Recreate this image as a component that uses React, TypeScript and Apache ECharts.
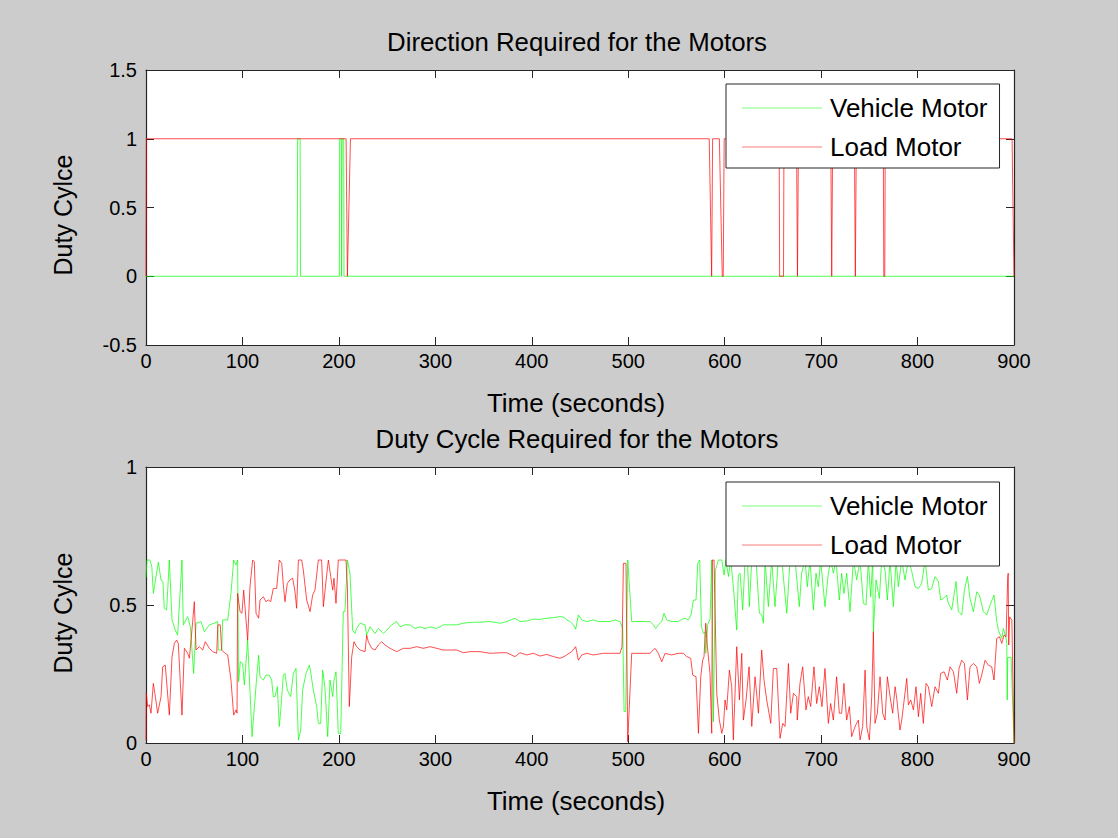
import React, { useEffect, useRef } from "react";
import * as echarts from "echarts";

// ---------- data ----------
const timeTicks = [0, 100, 200, 300, 400, 500, 600, 700, 800, 900];

const directionVehicle: [number, number][] = [
  [0, 0], [156.8, 0], [157.2, 1], [159.8, 1], [160.2, 0],
  [200.5, 0], [200.8, 1], [202.5, 1], [202.8, 0], [203.1, 0], [203.4, 1], [205, 1], [205.3, 0],
  [900, 0],
];

const directionLoad: [number, number][] = [
  [0, 0], [0.4, 1], [207.5, 1], [208.8, 0], [212, 1],
  [584, 1], [586.5, 0], [587.5, 1], [594.5, 1], [597.5, 0], [598.5, 0], [599.5, 1],
  [656.5, 1], [657, 0], [661, 0], [661.5, 1], [674.5, 1], [675.5, 0], [676.5, 1],
  [710, 1], [711, 0], [712, 1], [734.5, 1], [735.5, 0], [736.5, 1],
  [764.5, 1], [765, 0], [766, 0], [766.5, 1], [898, 1], [900, 0],
];

const dutyVehicle: [number, number][] = [
  [0, 0.6], [1, 0.663], [4, 0.663], [6, 0.64], [7.6, 0.542], [12.8, 0.655], [15.6, 0.59], [17.5, 0.585],
  [19, 0.488], [21.4, 0.482], [24.2, 0.663], [27, 0.446], [30.4, 0.409], [32.8, 0.391], [37.3, 0.663],
  [38.7, 0.428], [43.2, 0.458], [46, 0.421], [49.4, 0.252], [51.9, 0.434], [57, 0.44], [60.5, 0.403],
  [65.7, 0.428], [70.9, 0.434], [74.3, 0.44], [75, 0.337], [78.5, 0.337], [79.5, 0.446], [84.7, 0.446],
  [88.1, 0.542], [90.9, 0.663], [93.3, 0.645], [95, 0.663], [96, 0.222], [97.8, 0.294], [100.2, 0.288],
  [102, 0.21], [105.4, 0.373], [110, 0.023], [111.3, 0.083], [115.1, 0.252], [116.8, 0.318], [118.2, 0.24],
  [121.7, 0.228], [124.4, 0.246], [127.9, 0.246], [130.3, 0.228], [132, 0.168], [133.8, 0.168],
  [136.2, 0.204], [138.2, 0.06], [139.6, 0.114], [142.4, 0.246], [144.1, 0.252], [146.5, 0.192],
  [150, 0.168], [152.8, 0.252], [155.5, 0.27], [158, 0.011], [160.4, 0.047], [162.4, 0.192],
  [165.9, 0.252], [169.4, 0.282], [170.7, 0.258], [173.5, 0.192], [177, 0.132], [178.7, 0.071],
  [181.1, 0.071], [183.2, 0.264], [185.6, 0.198], [188.4, 0.023], [190.8, 0.228], [193.6, 0.168],
  [194.9, 0.228], [197, 0.258], [199.4, 0.035], [201.9, 0.035], [204.6, 0.476], [206.3, 0.476],
  [208.8, 0.663], [211.5, 0.615], [214.3, 0.409], [216.7, 0.397], [218.4, 0.415], [221.9, 0.434],
  [227.1, 0.428], [228.8, 0.391], [232.3, 0.421], [237.5, 0.397], [240.9, 0.415], [246.1, 0.397],
  [249.6, 0.409], [254.7, 0.428], [259.9, 0.44], [263.4, 0.421], [268.6, 0.428], [273.8, 0.428],
  [278.9, 0.415], [284.1, 0.421], [289.3, 0.415], [294.5, 0.421], [301.4, 0.415], [308.3, 0.428],
  [315.2, 0.428], [322.1, 0.428], [329.1, 0.434], [336, 0.437], [346.3, 0.438], [356.7, 0.44],
  [367.1, 0.434], [374, 0.44], [382.6, 0.452], [387.8, 0.44], [394.7, 0.442], [401.6, 0.449],
  [408.6, 0.448], [415.5, 0.452], [422.4, 0.454], [429.3, 0.458], [433.4, 0.456], [436.2, 0.446],
  [439.7, 0.44], [443.1, 0.428], [445.5, 0.412], [448.3, 0.464], [451.8, 0.446], [457, 0.44],
  [463.9, 0.446], [469, 0.44], [481.2, 0.44], [486.3, 0.446], [491.5, 0.44], [494.3, 0.415],
  [495.7, 0.114], [497.4, 0.114], [499.5, 0.663], [503.6, 0.44], [512.3, 0.44], [522.6, 0.44],
  [526.1, 0.428], [528.5, 0.415], [531.3, 0.428], [534.7, 0.44], [537.1, 0.47], [539.9, 0.446],
  [545.1, 0.44], [552, 0.44], [555.5, 0.448], [558.9, 0.452], [562.4, 0.446], [565.1, 0.464],
  [567.6, 0.518], [570.3, 0.518], [572.1, 0.651], [574.1, 0.663], [575.9, 0.421], [578, 0.397],
  [579.6, 0.403], [580.4, 0.325], [582.5, 0.43], [584.9, 0.45], [586.6, 0.663], [588.3, 0.077],
  [590.4, 0.627], [593.5, 0.663], [597, 0.663], [599.4, 0.609], [601.4, 0.663], [603.9, 0.603],
  [606.3, 0.663], [609, 0.566], [612.5, 0.409], [614.2, 0.609], [616, 0.615], [618.7, 0.482],
  [621.1, 0.663], [623.6, 0.663], [625.6, 0.494], [628.1, 0.663], [629.8, 0.663], [632.5, 0.663],
  [636, 0.47], [638.4, 0.464], [640.2, 0.434], [641.9, 0.663], [645.3, 0.494], [648.8, 0.663],
  [652.2, 0.494], [655.7, 0.663], [659.2, 0.663], [664.4, 0.47], [667.8, 0.663], [673, 0.663],
  [677.4, 0.494], [679.8, 0.615], [683.3, 0.663], [685.7, 0.566], [688.5, 0.663], [692, 0.482],
  [694.7, 0.615], [697.1, 0.566], [699.5, 0.663], [704, 0.494], [707.5, 0.615], [709.9, 0.663],
  [712.7, 0.615], [715.4, 0.663], [718.9, 0.518], [721.3, 0.615], [723.7, 0.542], [726.5, 0.615],
  [730, 0.476], [733.5, 0.663], [736.9, 0.591], [740.4, 0.663], [743.8, 0.506], [746.6, 0.5],
  [749, 0.663], [751.4, 0.53], [753.5, 0.663], [754.2, 0.403], [757, 0.591], [760.4, 0.524],
  [762.8, 0.663], [766.3, 0.627], [768.7, 0.518], [771.5, 0.663], [774.9, 0.494], [777.7, 0.663],
  [780.1, 0.566], [783.6, 0.663], [787, 0.591], [790.5, 0.663], [794, 0.621], [797.4, 0.566],
  [800.9, 0.56], [804.3, 0.578], [807.8, 0.663], [811.2, 0.554], [814.7, 0.56], [818.1, 0.603],
  [821.6, 0.585], [824, 0.518], [826.8, 0.524], [830.2, 0.536], [832, 0.506], [835.4, 0.482],
  [839.9, 0.585], [842.3, 0.476], [845.8, 0.464], [848.6, 0.554], [851.7, 0.603], [854.4, 0.524],
  [857.9, 0.476], [861.4, 0.548], [864.1, 0.536], [868.3, 0.476], [871.7, 0.464], [875.2, 0.5],
  [879.3, 0.536], [882.1, 0.44], [883.8, 0.409], [887.3, 0.379], [889, 0.415], [891.8, 0.379],
  [892.5, 0.36], [893, 0.156], [893.5, 0.31], [897, 0.31], [900, 0],
];

const dutyLoad: [number, number][] = [
  [0, 0.01], [0.3, 0.18], [1.7, 0.132], [3.5, 0.138], [5.2, 0.108], [7.6, 0.216], [9.7, 0.168],
  [12.1, 0.108], [15.6, 0.168], [17.3, 0.276], [20, 0.282], [22.5, 0.174], [24.2, 0.101], [27, 0.313],
  [29.4, 0.361], [31.8, 0.373], [33.5, 0.361], [37.3, 0.101], [39.8, 0.343], [43.2, 0.325], [45, 0.307],
  [48.4, 0.44], [50.1, 0.512], [51.9, 0.337], [55.3, 0.349], [58.8, 0.337], [61.5, 0.367], [65.7, 0.343],
  [69.1, 0.331], [73.3, 0.325], [74.5, 0.428], [77, 0.428], [78.5, 0.337], [80, 0.331], [84.7, 0.319],
  [88.1, 0.228], [90.9, 0.101], [93.3, 0.12], [94.4, 0.108], [95, 0.542], [97.5, 0.476], [99.5, 0.47],
  [101.3, 0.554], [103.7, 0.446], [105.4, 0.373], [107.8, 0.566], [110.6, 0.663], [112.3, 0.657],
  [114.1, 0.47], [116.8, 0.452], [118.2, 0.518], [121.7, 0.53], [124.4, 0.512], [126.8, 0.518],
  [129.3, 0.512], [132, 0.56], [135.5, 0.56], [138.2, 0.663], [140.7, 0.651], [142.4, 0.572],
  [144.1, 0.512], [146.5, 0.578], [149.3, 0.591], [152.1, 0.597], [154.5, 0.548], [156.2, 0.488],
  [158, 0.663], [161.4, 0.663], [163.1, 0.627], [166.6, 0.518], [170.1, 0.476], [172.8, 0.536],
  [175.2, 0.554], [178.7, 0.663], [182.1, 0.663], [183.9, 0.494], [186.6, 0.585], [189.1, 0.663],
  [191.5, 0.603], [193.6, 0.554], [194.9, 0.597], [197, 0.506], [199.4, 0.663], [207.4, 0.663],
  [208.8, 0.566], [210.8, 0.132], [213.3, 0.313], [215.7, 0.367], [218.4, 0.349], [221.9, 0.337],
  [227.1, 0.331], [228.8, 0.391], [230.5, 0.367], [234, 0.343], [237.5, 0.337], [240.9, 0.355],
  [244.4, 0.367], [247.8, 0.355], [253, 0.343], [256.5, 0.337], [259.9, 0.331], [266.8, 0.343],
  [273.8, 0.343], [280.7, 0.349], [287.6, 0.343], [294.5, 0.349], [301.4, 0.343], [308.3, 0.337],
  [315.2, 0.337], [322.1, 0.337], [329.1, 0.327], [336, 0.331], [346.3, 0.331], [356.7, 0.325],
  [367.1, 0.327], [374, 0.327], [382.6, 0.313], [387.8, 0.327], [394.7, 0.319], [401.6, 0.325],
  [408.6, 0.315], [415.5, 0.321], [422.4, 0.313], [429.3, 0.307], [433.4, 0.313], [436.2, 0.319],
  [441.4, 0.331], [445.5, 0.349], [448.3, 0.3], [451.8, 0.319], [457, 0.325], [463.9, 0.319],
  [474.2, 0.325], [484.6, 0.325], [491.5, 0.325], [493.6, 0.349], [495, 0.651], [497.7, 0.651],
  [499.5, 0.005], [503.6, 0.325], [522.6, 0.325], [527.8, 0.343], [531.3, 0.325], [534.7, 0.294],
  [538.2, 0.325], [545.1, 0.319], [552, 0.325], [557.2, 0.325], [560.7, 0.313], [564.8, 0.307],
  [566.9, 0.246], [570.3, 0.24], [572.8, 0.035], [575.2, 0.24], [577.2, 0.3], [578.6, 0.313],
  [580.4, 0.434], [582.1, 0.349], [584.8, 0.252], [586.6, 0.035], [587.3, 0.663], [589, 0.663],
  [591.8, 0.18], [594.5, 0.083], [597, 0.035], [598.7, 0.06], [600.4, 0.156], [602.1, 0.12],
  [604.9, 0.264], [607.3, 0.204], [609, 0.011], [612.5, 0.349], [615.3, 0.156], [617.7, 0.325],
  [619.4, 0.083], [622.2, 0.156], [625.3, 0.276], [628.1, 0.06], [631.5, 0.24], [635, 0.108],
  [638.4, 0.337], [640.8, 0.228], [643.6, 0.156], [647.8, 0.071], [650.5, 0.27], [654, 0.27],
  [657.4, 0.017], [660.2, 0.071], [662.6, 0.06], [666.1, 0.288], [668.5, 0.108], [671.3, 0.18],
  [674.7, 0.168], [675.3, 0.083], [678.1, 0.216], [680.9, 0.276], [684.3, 0.12], [686.7, 0.168],
  [689.2, 0.132], [692.6, 0.276], [695.4, 0.143], [698.1, 0.204], [700.9, 0.132], [704, 0.27],
  [707.5, 0.071], [709.9, 0.143], [712.7, 0.083], [716.1, 0.24], [718.9, 0.108], [721.3, 0.108],
  [723.7, 0.216], [726.5, 0.083], [729.3, 0.132], [731.7, 0.023], [735.2, 0.06], [738.6, 0.083],
  [740.4, 0.011], [743.1, 0.06], [745.6, 0.264], [747.3, 0.06], [750, 0.011], [752.5, 0.168],
  [754.2, 0.403], [755.9, 0.071], [758.3, 0.108], [761.1, 0.24], [763.9, 0.108], [766.3, 0.083],
  [768.7, 0.24], [771.5, 0.168], [774.2, 0.108], [776.7, 0.204], [778.4, 0.162], [781.8, 0.047],
  [783.6, 0.083], [785.3, 0.132], [788.8, 0.234], [790.5, 0.138], [792.9, 0.156], [795.7, 0.12],
  [798.4, 0.204], [800.9, 0.095], [803.3, 0.18], [806, 0.071], [808.8, 0.216], [811.2, 0.204],
  [814.7, 0.132], [818.1, 0.204], [821.6, 0.18], [824, 0.252], [827.5, 0.258], [830.9, 0.228],
  [833.7, 0.276], [837.2, 0.258], [840.6, 0.18], [843, 0.27], [845.8, 0.3], [848.6, 0.288],
  [851.7, 0.156], [854.4, 0.276], [857.9, 0.288], [861.4, 0.276], [864.1, 0.216], [866.5, 0.246],
  [870, 0.3], [873.4, 0.282], [876.9, 0.276], [879.3, 0.228], [882.1, 0.379], [884.9, 0.385],
  [887.3, 0.361], [889.7, 0.391], [891.8, 0.385], [893.5, 0.6], [894, 0.615], [894.5, 0.355],
  [895.5, 0.457], [897.8, 0.445], [900, 0],
];

const seriesNames = ["Vehicle Motor", "Load Motor"];
const titles = ["Direction Required for the Motors", "Duty Cycle Required for the Motors"];
const xLabel = "Time (seconds)";
const yLabel = "Duty Cylce";

// ---------- styling ----------
const FONT = "'Liberation Sans', Arial, Helvetica, sans-serif";
const GREEN = "#00ff00";
const RED = "#ff0000";
const AX = "#262626";
const PLOT_LEFT = 146;
const PLOT_W = 868;
const grids = [
  { top: 70, height: 275, yMin: -0.5, yMax: 1.5 },
  { top: 467, height: 276, yMin: 0, yMax: 1 },
];

export default function App() {
  const ref = useRef<HTMLDivElement>(null);

  useEffect(() => {
    document.body.style.margin = "0";
    if (!ref.current) return;
    const chart = echarts.init(ref.current, undefined, { renderer: "svg" });

    const tick = () => ({ show: true, inside: true, length: 8, lineStyle: { color: AX, width: 1 } });
    const line = () => ({ show: true, onZero: false, lineStyle: { color: AX, width: 1.2 } });
    const xAxes: any[] = [];
    const yAxes: any[] = [];
    grids.forEach((g, gi) => {
      xAxes.push({
        type: "value", gridIndex: gi, position: "bottom", min: 0, max: 900, interval: 100,
        axisLine: line(), axisTick: tick(), splitLine: { show: false },
        axisLabel: { show: true, fontSize: 20, fontFamily: FONT, color: "#000", margin: 6 },
      });
      xAxes.push({
        type: "value", gridIndex: gi, position: "top", min: 0, max: 900, interval: 100,
        axisLine: line(), axisTick: tick(), splitLine: { show: false }, axisLabel: { show: false },
      });
      yAxes.push({
        type: "value", gridIndex: gi, position: "left", min: g.yMin, max: g.yMax, interval: 0.5,
        axisLine: line(), axisTick: tick(), splitLine: { show: false },
        axisLabel: { show: true, fontSize: 20, fontFamily: FONT, color: "#000", margin: 9 },
      });
      yAxes.push({
        type: "value", gridIndex: gi, position: "right", min: g.yMin, max: g.yMax, interval: 0.5,
        axisLine: line(), axisTick: tick(), splitLine: { show: false }, axisLabel: { show: false },
      });
    });

    const mkSeries = (name: string, data: [number, number][], color: string, gi: number) => ({
      type: "line", name, data, xAxisIndex: gi * 2, yAxisIndex: gi * 2,
      showSymbol: false, symbol: "none", lineStyle: { color, width: 0.7 }, itemStyle: { color },
      emphasis: { disabled: true }, silent: true, z: 2,
    });

    const mkLegend = (top: number) => ({
      orient: "vertical", left: 726, top,
      backgroundColor: "#ffffff", borderColor: AX, borderWidth: 1,
      padding: [9, 12, 6, 16], itemGap: 9, itemWidth: 80, itemHeight: 1, icon: "rect",
      selectedMode: false,
      textStyle: { fontSize: 26, fontFamily: FONT, color: "#000", lineHeight: 30, padding: [0, 0, 0, 3] },
      data: [
        { name: seriesNames[0], itemStyle: { color: "#7fff7f" } },
        { name: seriesNames[1], itemStyle: { color: "#ff7f7f" } },
      ],
      z: 10,
    });

    const txt = (text: string, x: number, y: number, size: number, rot = 0) => ({
      type: "text", x, y, rotation: rot, z: 20,
      style: { text, fontSize: size, fontFamily: FONT, fill: "#000", align: "center", verticalAlign: "middle" },
    });

    const cx = PLOT_LEFT + PLOT_W / 2;
    chart.setOption({
      animation: false,
      backgroundColor: "#cccccc",
      grid: grids.map((g) => ({
        left: PLOT_LEFT, width: PLOT_W, top: g.top, height: g.height,
        show: true, backgroundColor: "#ffffff", borderWidth: 0,
      })),
      xAxis: xAxes,
      yAxis: yAxes,
      legend: [mkLegend(84), mkLegend(482)],
      series: [
        mkSeries(seriesNames[0], directionVehicle, GREEN, 0),
        mkSeries(seriesNames[1], directionLoad, RED, 0),
        mkSeries(seriesNames[0], dutyVehicle, GREEN, 1),
        mkSeries(seriesNames[1], dutyLoad, RED, 1),
      ],
      graphic: [
        txt(titles[0], cx - 3, 42, 25.8),
        txt(titles[1], cx - 3, 439, 25.8),
        txt(xLabel, cx - 4, 403, 26),
        txt(xLabel, cx - 4, 801, 26),
        txt(yLabel, 63, 215, 25, Math.PI / 2),
        txt(yLabel, 63, 613, 25, Math.PI / 2),
      ],
    });

    return () => chart.dispose();
  }, []);

  return <div ref={ref} style={{ width: 1118, height: 838, background: "#cccccc" }} />;
}
